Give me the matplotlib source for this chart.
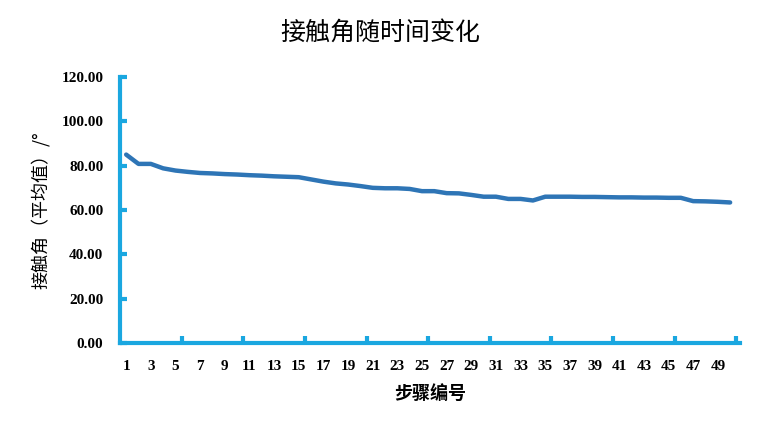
import matplotlib
matplotlib.use("Agg")
import matplotlib.pyplot as plt

plt.rcParams['font.family'] = ['Noto Sans CJK SC', 'DejaVu Sans']

steps = list(range(1, 51))
angles = [85, 80.8, 80.8, 78.8, 77.8, 77.2, 76.7, 76.5, 76.2, 76.0,
          75.7, 75.5, 75.2, 75.0, 74.8, 73.8, 72.8, 72.0, 71.5, 70.8,
          70.0, 69.8, 69.8, 69.5, 68.5, 68.5, 67.6, 67.5, 66.8, 66.0,
          66.0, 65.0, 65.0, 64.3, 66.0, 66.0, 66.0, 65.9, 65.9, 65.8,
          65.7, 65.7, 65.6, 65.6, 65.5, 65.5, 64.0, 63.9, 63.7, 63.4]
yticks = [0, 20, 40, 60, 80, 100, 120]

fig = plt.figure(figsize=(7.6, 4.32), dpi=100)
ax = fig.add_axes([120/760, 89/432, 620/760, 266/432])
ax.plot(steps, angles, color='#2E75B6', linewidth=3.2, solid_capstyle='round')
ax.set_xlim(0.5, 50.8)
ax.set_ylim(0, 120)
ax.set_yticks(yticks)
ax.set_yticklabels([f"{v:.2f}" for v in yticks], fontfamily='Liberation Serif', fontweight='bold', fontsize=11)
ax.set_xticks(steps[::2])
ax.set_xticklabels([str(s) for s in steps[::2]], fontfamily='Liberation Serif', fontweight='bold', fontsize=11)
ax.set_xticks([s + 0.5 for s in steps[4::5]], minor=True)
for s in ['top', 'right']:
    ax.spines[s].set_visible(False)
for s in ['left', 'bottom']:
    ax.spines[s].set_color('#1AA7E0')
    ax.spines[s].set_linewidth(3)
ax.tick_params(axis='y', color='#1AA7E0', width=3, length=5, direction='in', pad=12)
ax.tick_params(axis='x', which='major', length=0, pad=12)
ax.tick_params(axis='x', which='minor', color='#1AA7E0', width=3, length=5, direction='in')
ax.set_xlabel('步骤编号', fontsize=13, fontweight='bold', labelpad=8)
ax.set_ylabel('接触角（平均值）/°', fontsize=13, labelpad=8)
fig.suptitle('接触角随时间变化', fontsize=18, y=0.955)
fig.savefig('out.png', dpi=100)
